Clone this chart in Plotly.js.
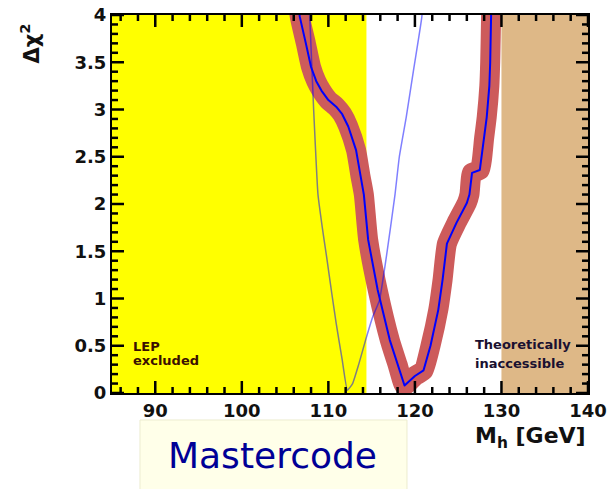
<!DOCTYPE html>
<html>
<head>
<meta charset="utf-8">
<script src="https://cdn.plot.ly/plotly-3.0.1.min.js"></script>
<style>
html,body{margin:0;padding:0;background:#fff;}
.scatterlayer .js-line{stroke-linejoin:round;}
</style>
</head>
<body>
<div id="chart" style="width:607px;height:489px;"></div>
<script>
// Main Delta chi^2 curve (Mastercode fit)
var mainX = [106.3, 106.7, 107.4, 108.0, 108.6, 109.2, 110.0, 110.9, 111.6, 112.3, 113.2, 113.7, 114.1, 114.6, 115.7, 117.1, 118.0, 118.8, 120.0, 121.0, 121.8, 122.7, 123.2, 123.7, 124.8, 126.0, 126.3, 126.6, 127.5, 128.0, 128.3, 128.6, 128.7, 128.8, 128.85];
var mainY = [4.3, 3.98, 3.7, 3.45, 3.3, 3.2, 3.1, 3.03, 2.95, 2.82, 2.57, 2.3, 2.1, 1.62, 1.09, 0.56, 0.3, 0.08, 0.18, 0.24, 0.5, 0.88, 1.2, 1.58, 1.80, 2.01, 2.1, 2.33, 2.36, 2.7, 2.92, 3.25, 3.5, 3.98, 4.3];
// Thin comparison curve
var thinX = [107.7, 107.85, 108.3, 108.8, 109.3, 109.8, 110.4, 110.9, 111.6, 112.2, 112.8, 113.5, 114.3, 115.1, 115.9, 116.7, 117.7, 118.2, 119.0, 119.9, 120.8, 121.0];
var thinY = [4.3, 3.98, 3.0, 2.1, 1.75, 1.44, 1.05, 0.74, 0.35, 0.03, 0.1, 0.3, 0.56, 0.8, 0.98, 1.44, 2.1, 2.5, 2.92, 3.45, 3.98, 4.3];
// Shaded regions and axis setup
var lepLimit = 114.4;
var theoryLimit = 130;
var xRange = [85, 140];
var yRange = [0, 4];
var xTickStep = 10, xMinorStep = 2;
var yTickStep = 0.5, yMinorStep = 0.1;

var W = 607, H = 489;
var M = {l: 112, r: 19, t: 15, b: 96};
var plotW = W - M.l - M.r, plotH = H - M.t - M.b;

// Inside tick marks on all four sides, derived from the axis ranges/steps (axis decoration)
function isMajor(v, step) { return Math.abs(v / step - Math.round(v / step)) < 1e-6; }
function tickTrace() {
  var tx = [], ty = [];
  var yPerPx = (yRange[1] - yRange[0]) / plotH;
  var xPerPx = (xRange[1] - xRange[0]) / plotW;
  var xStart = Math.ceil(xRange[0] / xMinorStep) * xMinorStep;
  for (var i = 0; xStart + i * xMinorStep <= xRange[1] + 1e-9; i++) {
    var v = xStart + i * xMinorStep;
    var len = (isMajor(v, xTickStep) ? 12 : 6) * yPerPx;
    tx.push(v, v, null, v, v, null);
    ty.push(yRange[0], yRange[0] + len, null, yRange[1], yRange[1] - len, null);
  }
  var ny = Math.round((yRange[1] - yRange[0]) / yMinorStep);
  for (var j = 0; j <= ny; j++) {
    var w = yRange[0] + j * yMinorStep;
    var lenX = (isMajor(w, yTickStep) ? 12 : 6) * xPerPx;
    tx.push(xRange[0], xRange[0] + lenX, null, xRange[1], xRange[1] - lenX, null);
    ty.push(w, w, null, w, w, null);
  }
  return {x: tx, y: ty, mode: 'lines', line: {color: '#000', width: 2.5}, hoverinfo: 'skip', connectgaps: false};
}

var traces = [
  {x: mainX, y: mainY, mode: 'lines', line: {color: '#CD5B5B', width: 20, shape: 'spline', smoothing: 0.5}, hoverinfo: 'skip'},
  {x: thinX, y: thinY, mode: 'lines', line: {color: 'rgba(0,0,255,0.5)', width: 1.5, shape: 'spline', smoothing: 0.4}, hoverinfo: 'skip'},
  {x: mainX, y: mainY, mode: 'lines', line: {color: '#0000FF', width: 2}, hoverinfo: 'skip'},
  tickTrace()
];

var tickFont = {family: 'DejaVu Sans', size: 18, weight: 'bold', color: '#111'};

var shapes = [
  {type: 'rect', xref: 'x', yref: 'y', x0: xRange[0], x1: lepLimit, y0: yRange[0], y1: yRange[1],
   fillcolor: '#FFFF00', line: {width: 0}, layer: 'below'},
  {type: 'rect', xref: 'x', yref: 'y', x0: theoryLimit, x1: xRange[1], y0: yRange[0], y1: yRange[1],
   fillcolor: '#DEB887', line: {width: 0}, layer: 'below'},
  {type: 'rect', xref: 'paper', yref: 'paper', x0: 0.0588, x1: 0.6197, y0: -0.0714, y1: -0.27,
   fillcolor: '#FFFFE9', line: {color: '#ECECCF', width: 1}}
];

var layout = {
  width: W, height: H,
  margin: M,
  paper_bgcolor: '#fff', plot_bgcolor: '#fff',
  showlegend: false,
  xaxis: {
    range: xRange, tickmode: 'linear', tick0: 0, dtick: xTickStep,
    showgrid: false, zeroline: false, showline: true, linecolor: '#000', linewidth: 2,
    mirror: true, ticks: '', tickfont: tickFont
  },
  yaxis: {
    range: yRange, tickmode: 'linear', tick0: 0, dtick: yTickStep,
    showgrid: false, zeroline: false, showline: true, linecolor: '#000', linewidth: 2,
    mirror: true, ticks: '', tickfont: tickFont
  },
  shapes: shapes,
  annotations: [
    {xref: 'paper', yref: 'paper', x: -0.172, y: 0.925, xanchor: 'center', yanchor: 'middle',
     text: 'Δχ<sup>2</sup>', textangle: -90,
     showarrow: false, font: {family: 'DejaVu Sans', size: 21, weight: 'bold', color: '#111'}},
    {xref: 'paper', yref: 'paper', x: 1.0, y: -0.119, xanchor: 'right', yanchor: 'middle',
     text: 'M<sub>h</sub> [GeV]', showarrow: false,
     font: {family: 'DejaVu Sans', size: 22, weight: 'bold', color: '#111'}},
    {xref: 'x', yref: 'y', x: 87.2, y: 0.487, xanchor: 'left', yanchor: 'middle', text: 'LEP',
     showarrow: false, font: {family: 'DejaVu Sans', size: 13, weight: 'bold', color: '#3a1000'}},
    {xref: 'x', yref: 'y', x: 87.2, y: 0.339, xanchor: 'left', yanchor: 'middle', text: 'excluded',
     showarrow: false, font: {family: 'DejaVu Sans', size: 13, weight: 'bold', color: '#3a1000'}},
    {xref: 'x', yref: 'y', x: 126.7, y: 0.513, xanchor: 'left', yanchor: 'middle', text: 'Theoretically',
     showarrow: false, font: {family: 'DejaVu Sans', size: 13, weight: 'bold', color: '#1a1030'}},
    {xref: 'x', yref: 'y', x: 126.7, y: 0.312, xanchor: 'left', yanchor: 'middle', text: 'inaccessible',
     showarrow: false, font: {family: 'DejaVu Sans', size: 13, weight: 'bold', color: '#1a1030'}},
    {xref: 'paper', yref: 'paper', x: 0.337, y: -0.166, xanchor: 'center', yanchor: 'middle',
     text: 'Mastercode', showarrow: false,
     font: {family: 'DejaVu Sans', size: 36, color: '#000096'}}
  ]
};

Plotly.newPlot('chart', traces, layout, {displayModeBar: false});
</script>
</body>
</html>
